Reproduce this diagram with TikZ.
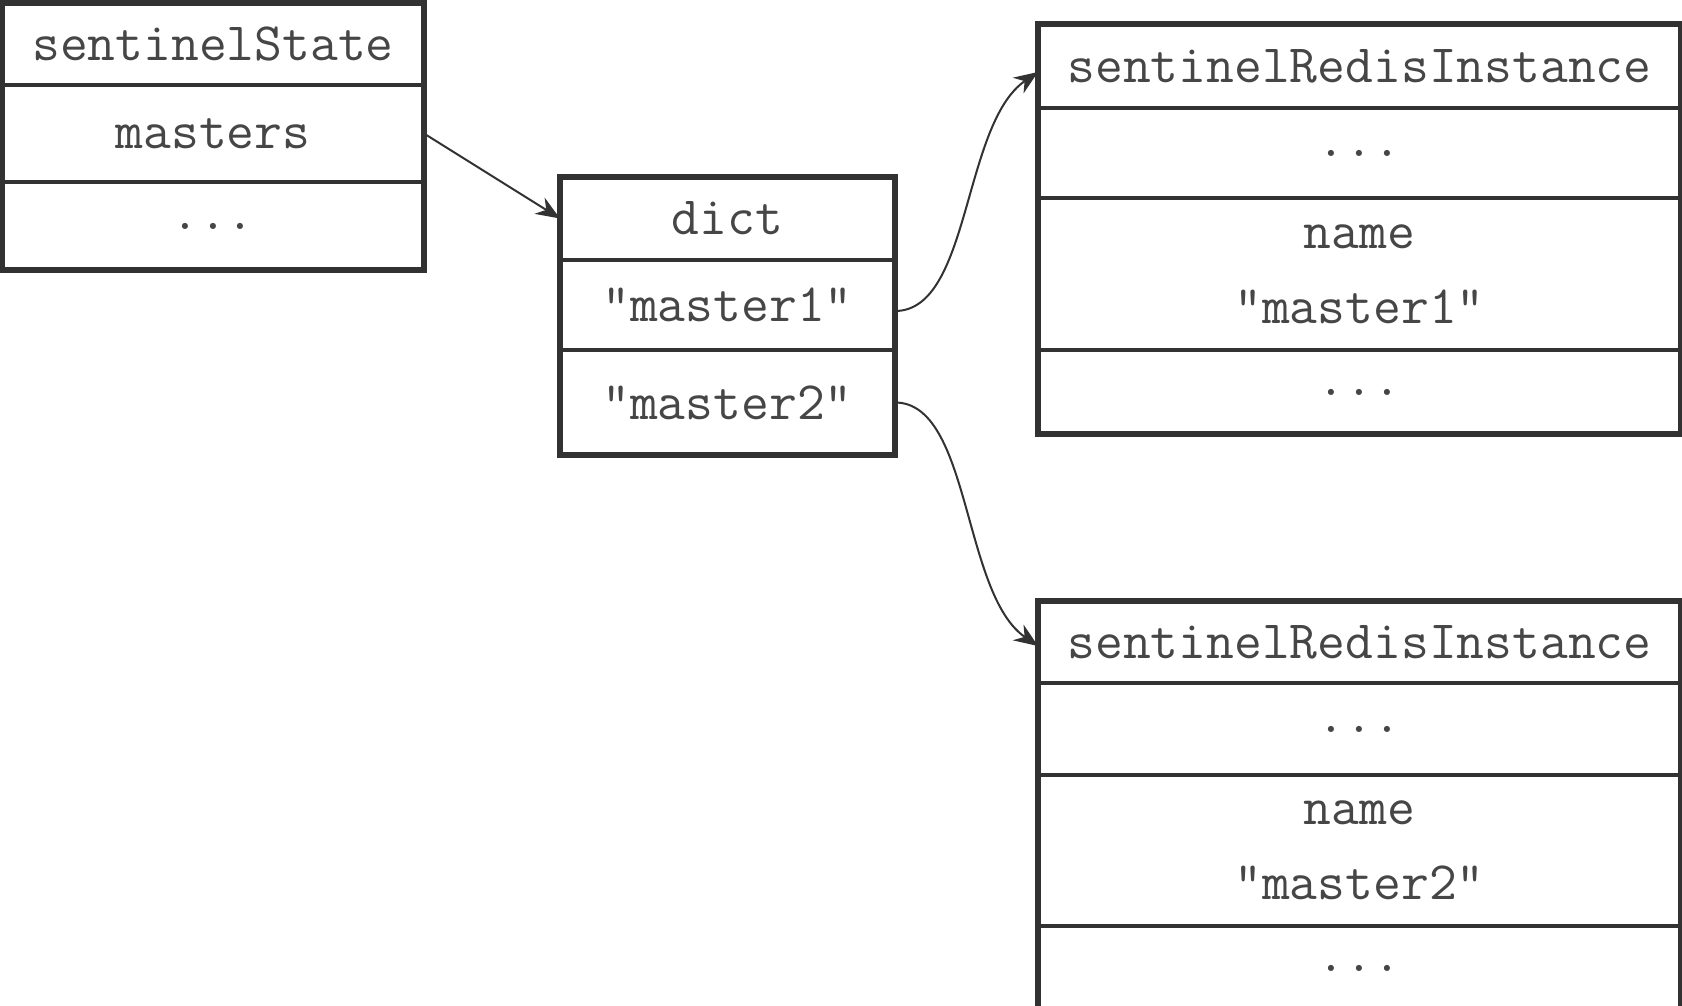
\documentclass[tikz,border=0pt]{standalone}
\usepackage{fontspec}
\definecolor{FrameGray}{RGB}{50, 50, 50}
\definecolor{InkGray}{RGB}{70, 70, 70}
\usepackage{tikz}
\usetikzlibrary{arrows.meta, positioning, fit}
\tikzset{
  cell/.style={rectangle, draw=FrameGray, line width=2pt, outer sep=0pt, inner sep=0pt,
               minimum width=#1, font=\ttfamily\fontsize{27}{37.5}\selectfont,
               text=InkGray, align=center},
  boxframe/.style={rectangle, draw=FrameGray, line width=3pt, inner sep=0pt},
  arr/.style={-{Stealth[length=12pt, width=9.5pt]}, line width=1pt, color=FrameGray},
}

\begin{document}
\begin{tikzpicture}[x=0.5pt, y=-0.5pt]
      \useasboundingbox (0,0) rectangle (1682,1006);

      \node[cell=211pt, minimum height=41pt, anchor=north west] (ss1) at (2,3) {sentinelState};
      \node[cell=211pt, minimum height=48.5pt, below=0pt of ss1] (ss2) {masters};
      \node[cell=211pt, minimum height=44pt, below=0pt of ss2] (ss3) {...};
      \node[boxframe, fit=(ss1)(ss3)] (ss) {};

      \node[cell=167.5pt, minimum height=41.5pt, anchor=north west] (dict1) at (560,177) {dict};
      \node[cell=167.5pt, minimum height=45pt, below=0pt of dict1] (dict2) {"master1"};
      \node[cell=167.5pt, minimum height=52.5pt, below=0pt of dict2] (dict3) {"master2"};
      \node[boxframe, fit=(dict1)(dict3)] (dict) {};

      \node[cell=321.5pt, minimum height=42pt, anchor=north west] (ri1) at (1038,24) {sentinelRedisInstance};
      \node[cell=321.5pt, minimum height=45pt, below=0pt of ri1] (ri2) {...};
      \node[cell=321.5pt, minimum height=76pt, below=0pt of ri2] (ri3) {name\\"master1"};
      \node[cell=321.5pt, minimum height=42pt, below=0pt of ri3] (ri4) {...};
      \node[boxframe, fit=(ri1)(ri4)] (ri) {};

      \node[cell=321.5pt, minimum height=41pt, anchor=north west] (rj1) at (1038,601) {sentinelRedisInstance};
      \node[cell=321.5pt, minimum height=46pt, below=0pt of rj1] (rj2) {...};
      \node[cell=321.5pt, minimum height=75.5pt, below=0pt of rj2] (rj3) {name\\"master2"};
      \node[cell=321.5pt, minimum height=42pt, below=0pt of rj3] (rj4) {...};
      \node[boxframe, fit=(rj1)(rj4)] (rj) {};

      \draw[arr] (ss2.east) -- (dict1.west);
      \draw[arr] ([yshift=-3pt]dict2.east) .. controls +(38pt,0pt) and +(-38pt,-26pt) .. ([yshift=-3pt]ri1.west);
      \draw[arr] (dict3.east) .. controls +(38pt,0pt) and +(-38pt,26pt) .. ([yshift=-2pt]rj1.west);
    \end{tikzpicture}
\end{document}
